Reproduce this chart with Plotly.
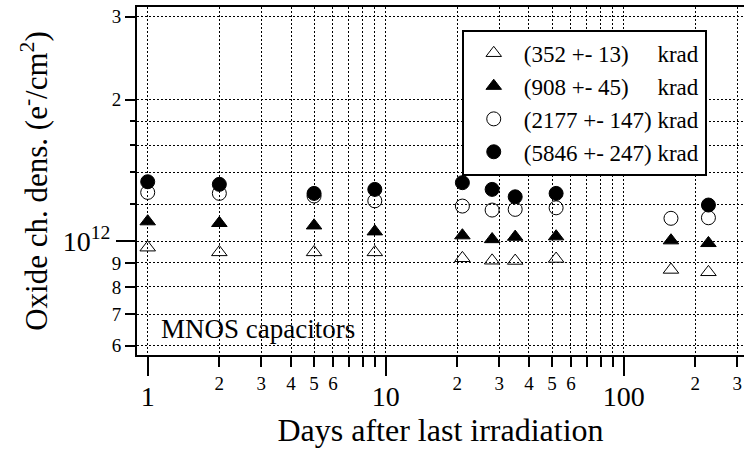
import plotly.graph_objects as go

# Days after the last irradiation step
days = [1, 2, 5, 9, 21, 28, 35, 52, 158, 227]

# Oxide charge density (e-/cm^2) for each total dose
dose_352 = [0.970e12, 0.948e12, 0.948e12, 0.948e12, 0.921e12, 0.910e12, 0.909e12, 0.918e12, 0.870e12, 0.860e12]
dose_908 = [1.102e12, 1.093e12, 1.080e12, 1.049e12, 1.029e12, 1.010e12, 1.022e12, 1.024e12, 1.004e12, 0.991e12]
dose_2177 = [1.270e12, 1.264e12, 1.248e12, 1.219e12, 1.188e12, 1.165e12, 1.169e12, 1.178e12, 1.119e12, 1.122e12]
dose_5846 = [1.338e12, 1.321e12, 1.264e12, 1.289e12, 1.332e12, 1.289e12, 1.243e12, 1.264e12, None, 1.194e12]

series_names = [
    "(352 +- 13)\u00a0\u00a0\u00a0\u00a0\u00a0krad",
    "(908 +- 45)\u00a0\u00a0\u00a0\u00a0\u00a0krad",
    "(2177 +- 147)\u00a0krad",
    "(5846 +- 247)\u00a0krad",
]
series_values = [dose_352, dose_908, dose_2177, dose_5846]
series_symbols = ["triangle-up-open", "triangle-up", "circle-open", "circle"]
series_sizes = [13.5, 13.5, 14, 14]

# Axis ticks
x_label_vals = [2, 3, 4, 5, 6, 20, 30, 40, 50, 60, 200, 300]
x_label_text = ["2", "3", "4", "5", "6", "2", "3", "4", "5", "6", "2", "3"]
x_plain_vals = [1, 7, 8, 9, 10, 70, 80, 90, 100]
x_major_vals = [1, 10, 100]
x_major_text = ["1", "10", "100"]

y_label_vals = [6e11, 7e11, 8e11, 9e11, 2e12, 3e12]
y_label_text = ["6", "7", "8", "9", "2", "3"]
y_small_vals = [1.2e12, 1.4e12, 1.6e12, 1.8e12]
y_major_vals = [1e12]
y_major_text = ["10<sup>12</sup>"]

FONT = "Liberation Serif, Times New Roman, serif"
x_range = [-0.045, 2.5055]
y_range = [11.7586, 12.4975]
dots = "2px,2px"

fig = go.Figure()
for name, vals, sym, sz in zip(series_names, series_values, series_symbols, series_sizes):
    fig.add_trace(go.Scatter(
        x=days, y=vals, name=name, mode="markers",
        marker=dict(symbol=sym, size=sz, color="black", line=dict(color="black", width=1)),
    ))

# empty trace so the decade-tick axes (x2, y2) get drawn
fig.add_trace(go.Scatter(x=[], y=[], xaxis="x2", yaxis="y2", showlegend=False, hoverinfo="skip"))

grid = dict(showgrid=True, gridcolor="black", gridwidth=1, griddash=dots)

fig.update_layout(
    width=744, height=455, autosize=False,
    margin=dict(l=137, r=0, t=7, b=100),
    paper_bgcolor="white", plot_bgcolor="white",
    font=dict(family=FONT, color="black"),
    showlegend=True,
    legend=dict(
        x=0.535, y=0.935, xanchor="left", yanchor="top",
        bgcolor="white", bordercolor="black", borderwidth=2,
        font=dict(family=FONT, size=23, color="black"),
        itemwidth=50, tracegroupgap=0,
    ),
    xaxis=dict(
        type="log", range=x_range, showline=True, linewidth=2, linecolor="black", mirror=True,
        ticks="outside", ticklen=10, tickwidth=2, tickcolor="black",
        tickmode="array", tickvals=x_label_vals, ticktext=x_label_text,
        tickfont=dict(family=FONT, size=19), zeroline=False, **grid,
        minor=dict(tickmode="array", tickvals=x_plain_vals, ticks="outside", ticklen=10,
                   tickwidth=2, tickcolor="black", **grid),
    ),
    xaxis2=dict(
        type="log", range=x_range, overlaying="x", anchor="y", side="bottom",
        showline=False, showgrid=False, zeroline=False,
        ticks="outside", ticklen=20, tickwidth=2, tickcolor="black",
        tickmode="array", tickvals=x_major_vals, ticktext=x_major_text,
        tickfont=dict(family=FONT, size=28), ticklabelstandoff=-4,
        title=dict(text="Days after last irradiation", font=dict(family=FONT, size=32), standoff=6),
    ),
    yaxis=dict(
        type="log", range=y_range, showline=True, linewidth=2, linecolor="black", mirror=False,
        ticks="outside", ticklen=10, tickwidth=2, tickcolor="black",
        tickmode="array", tickvals=y_label_vals, ticktext=y_label_text,
        tickfont=dict(family=FONT, size=19), zeroline=False, **grid,
        minor=dict(tickmode="array", tickvals=y_small_vals, ticks="outside", ticklen=5,
                   tickwidth=2, tickcolor="black", **grid),
    ),
    yaxis2=dict(
        type="log", range=y_range, overlaying="y", anchor="x", side="left",
        showline=False, zeroline=False, **grid,
        ticks="outside", ticklen=20, tickwidth=2, tickcolor="black",
        tickmode="array", tickvals=y_major_vals, ticktext=y_major_text,
        tickfont=dict(family=FONT, size=28),
        title=dict(text="Oxide ch. dens. (e<sup>-</sup>/cm<sup>2</sup>)", font=dict(family=FONT, size=31), standoff=5),
    ),
    annotations=[dict(
        text="MNOS capacitors", xref="paper", yref="paper", x=0.0367, y=0.0747,
        xanchor="left", yanchor="middle", showarrow=False,
        font=dict(family=FONT, size=27, color="black"),
    )],
)

fig.write_html("out.html")
